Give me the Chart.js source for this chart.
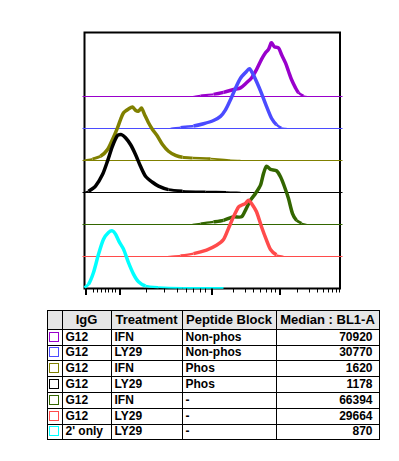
<!DOCTYPE html>
<html>
<head>
<meta charset="utf-8">
<script src="https://cdn.jsdelivr.net/npm/chart.js@4.4.1/dist/chart.umd.min.js"></script>
<style>
    body { margin: 0; background: #fff; width: 399px; height: 461px; position: relative; overflow: hidden; font-family: "Liberation Sans", Arial, sans-serif; }
    #myChart { position: absolute; left: 0; top: 0; }
    #tabla { position: absolute; left: 46.5px; top: 309.5px; width: 332px; border-collapse: collapse; table-layout: fixed; font-weight: bold; font-size: 12px; color: #000; }
    #tabla td, #tabla th { border: 1px solid #000; padding: 0 3px; white-space: nowrap; overflow: hidden; }
    #tabla th { background: #e6e6e6; font-size: 13px; height: 18.3px; text-align: center; padding: 0; }
    #tabla td { height: 14.8px; line-height: 13px; }
    #tabla td.num { text-align: right; padding-right: 6px; }
    #tabla td.caja { padding: 0 0 0 1px; }
    .cuadro { display: inline-block; width: 10px; height: 10px; box-sizing: border-box; border: 1.5px solid; vertical-align: -1px; }
</style>
</head>
<body>
<canvas id="myChart" width="399" height="300"></canvas>
<table id="tabla">
    <colgroup><col style="width:15px"><col style="width:49px"><col style="width:71px"><col style="width:94px"><col style="width:103px"></colgroup>
    <thead><tr><th></th><th>IgG</th><th>Treatment</th><th>Peptide Block</th><th>Median : BL1-A</th></tr></thead>
    <tbody id="cuerpo"></tbody>
</table>
<script>
// filas de la tabla (de arriba a abajo, igual que las curvas)
var igg = ['G12', 'G12', 'G12', 'G12', 'G12', 'G12', "2' only"];
var tratamientos = ['IFN', 'LY29', 'IFN', 'LY29', 'IFN', 'LY29', 'LY29'];
var bloqueos = ['Non-phos', 'Non-phos', 'Phos', 'Phos', '-', '-', '-'];
var medianas = [70920, 30770, 1620, 1178, 66394, 29664, 870];
var colores = ['#9900cc', '#4b4bff', '#808000', '#000000', '#336600', '#ff4b4b', '#00ffff'];

// histogramas: canal (eje x) y altura (100 = un escalon del desplazamiento)
var canalesMorado = [109, 116, 129, 139, 149, 156, 162, 167, 172, 177, 181, 184, 186, 187, 190, 194, 197, 201, 204, 207, 211, 214, 219, 222];
var cuentasMorado = [0, 3, 7, 13, 22, 27, 43, 58, 84, 116, 137, 147, 163, 168, 155, 152, 131, 105, 79, 53, 27, 12, 2, 0];
var canalesAzul = [86, 96, 109, 119, 129, 136, 141, 146, 151, 156, 161, 165, 168, 172, 177, 182, 187, 192, 197, 202];
var cuentasAzul = [0, 4, 8, 15, 25, 38, 58, 90, 126, 157, 175, 187, 173, 147, 110, 69, 32, 12, 2, 0];
var canalesOliva = [0, 8, 16, 23, 28, 33, 36, 39, 44, 48, 51, 54, 57, 60, 64, 68, 73, 78, 84, 91, 98, 108, 126, 146, 156];
var cuentasOliva = [1, 5, 13, 34, 66, 102, 128, 149, 161, 167, 157, 154, 164, 144, 118, 97, 76, 50, 29, 16, 10, 8, 6, 1, 0];
var canalesNegro = [0, 4, 11, 18, 23, 28, 33, 37, 41, 46, 51, 56, 61, 68, 74, 84, 98, 121, 142, 156];
var cuentasNegro = [0, 4, 20, 56, 98, 145, 178, 181, 171, 150, 119, 82, 51, 32, 20, 9, 5, 3, 2, 0];
var canalesVerde = [108, 116, 129, 139, 149, 157, 161, 166, 171, 176, 179, 182, 186, 192, 196, 200, 204, 208, 212, 217, 222];
var cuentasVerde = [0, 3, 8, 13, 24, 24, 45, 76, 97, 123, 159, 182, 172, 168, 149, 118, 81, 34, 13, 4, 0];
var canalesRojo = [84, 96, 109, 122, 132, 139, 144, 149, 154, 157, 161, 164, 167, 172, 177, 182, 186, 192, 199];
var cuentasRojo = [0, 3, 9, 20, 35, 53, 88, 124, 155, 160, 166, 176, 166, 140, 93, 51, 22, 5, 0];
var canalesCian = [0, 4, 9, 14, 19, 24, 28, 31, 35, 39, 44, 49, 54, 61, 74, 98, 139];
var cuentasCian = [3, 13, 50, 107, 154, 175, 180, 170, 144, 123, 81, 45, 21, 8, 4, 2, 2];

var canales = [canalesMorado, canalesAzul, canalesOliva, canalesNegro, canalesVerde, canalesRojo, canalesCian];
var cuentas = [cuentasMorado, cuentasAzul, cuentasOliva, cuentasNegro, cuentasVerde, cuentasRojo, cuentasCian];

// marcas del eje x, en canales
var ticksMayores = [0, 34.8, 126.5, 194.2];
var ticksMenores = [8, 12, 16, 20, 23.5, 27, 30.5,
    61.7, 79.7, 92, 101.2, 108.7, 115.3, 120.8,
    148.8, 160.5, 168.2, 175.5, 181.5, 186.5, 190.5,
    212.8, 224.5, 232.8, 238.8, 243.8, 247.8, 251.5, 254.2];

var marcasEje = {
    id: 'marcasEje',
    beforeDatasetsDraw: function(chart) {
        var a = chart.chartArea;
        var ctx = chart.ctx;
        ctx.save();
        ctx.strokeStyle = '#000';
        ctx.lineWidth = 2;
        ctx.strokeRect(a.left, a.top, a.right - a.left, a.bottom - a.top);
        ctx.restore();
    },
    // la curva gruesa solo se ve por encima de su linea base
    beforeDatasetDraw: function(chart, args) {
        var ds = chart.data.datasets[args.index];
        if (ds.lineaBase === undefined) return;
        var py = chart.scales.y.getPixelForValue(ds.lineaBase);
        var ctx = chart.ctx;
        ctx.save();
        ctx.beginPath();
        ctx.rect(0, 0, chart.width, py + 0.5);
        ctx.clip();
    },
    afterDatasetDraw: function(chart, args) {
        var ds = chart.data.datasets[args.index];
        if (ds.lineaBase === undefined) return;
        chart.ctx.restore();
    },
    afterDatasetsDraw: function(chart) {
        var x = chart.scales.x;
        var y0 = chart.chartArea.bottom;
        var ctx = chart.ctx;
        ctx.save();
        ctx.strokeStyle = '#000';
        ctx.lineWidth = 2;
        ticksMayores.forEach(function(v) {
            var px = Math.round(x.getPixelForValue(v)) + 1;
            ctx.beginPath(); ctx.moveTo(px, y0); ctx.lineTo(px, y0 + 6.5); ctx.stroke();
        });
        ctx.lineWidth = 1;
        ticksMenores.forEach(function(v) {
            var px = Math.round(x.getPixelForValue(v)) + 0.5;
            ctx.beginPath(); ctx.moveTo(px, y0); ctx.lineTo(px, y0 + 4); ctx.stroke();
        });
        ctx.restore();
    }
};

window.onload = function() {
    dibujarTabla();
    dibujarGrafico();
};

function dibujarTabla() {
    var cuerpo = document.getElementById('cuerpo');
    igg.forEach(function(g, i) {
        var fila = document.createElement('tr');
        fila.innerHTML = '<td class="caja"><span class="cuadro" style="border-color:' + colores[i] + '"></span></td>' +
            '<td>' + g + '</td><td>' + tratamientos[i] + '</td><td>' + bloqueos[i] + '</td>' +
            '<td class="num">' + medianas[i] + '</td>';
        cuerpo.appendChild(fila);
    });
}

function dibujarGrafico() {
    var n = canales.length;
    var datasets = [];
    canales.forEach(function(cs, i) {
        var base = (n - 1 - i) * 100;
        var puntos = cs.map(function(c, k) { return { x: c, y: base + cuentas[i][k] }; });
        datasets.push({
            data: puntos,
            lineaBase: base,
            borderColor: colores[i],
            borderWidth: 3.5,
            pointRadius: 0,
            tension: 0.25,
            clip: false,
            order: 2 * (n - 1 - i),
            // cerca de la base el trazo se afina
            segment: {
                borderWidth: function(ctx) {
                    var h = (ctx.p0.parsed.y + ctx.p1.parsed.y) / 2 - base;
                    return Math.max(1.2, Math.min(3.5, 1.2 + h * 0.2));
                }
            }
        });
        if (i < n - 1) {
            datasets.push({
                data: [{ x: -2, y: base }, { x: 258, y: base }],
                borderColor: colores[i],
                borderWidth: 1,
                pointRadius: 0,
                clip: false,
                order: 2 * (n - 1 - i) + 1
            });
        }
    });

    new Chart(document.getElementById('myChart'), {
        type: 'line',
        data: { datasets: datasets },
        options: {
            responsive: false,
            animation: false,
            layout: { padding: { left: 84.5, right: 59, top: 32.5, bottom: 11.5 } },
            plugins: { legend: { display: false }, tooltip: { enabled: false } },
            scales: {
                x: { type: 'linear', min: 0, max: 255.5, display: false },
                y: { min: 0, max: 800, display: false }
            }
        },
        plugins: [marcasEje]
    });
}
</script>
</body>
</html>
